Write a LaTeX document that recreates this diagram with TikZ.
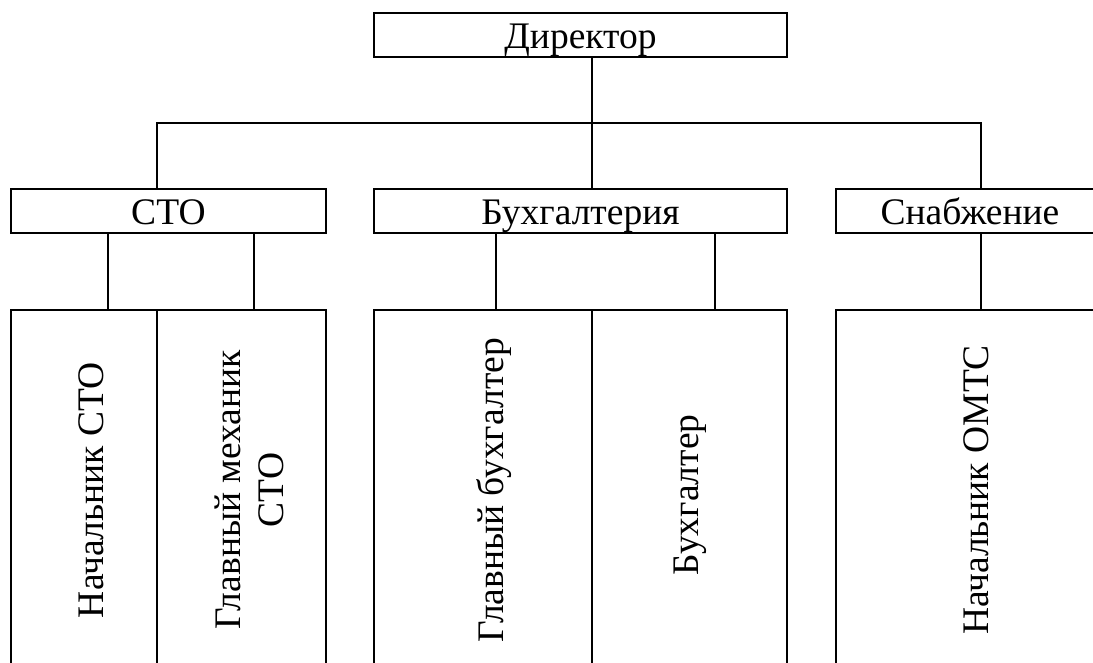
\documentclass[tikz,border=0pt]{standalone}
\usepackage{fontspec}
\setmainfont{Liberation Serif}
\usetikzlibrary{positioning}

\tikzset{
  unit/.style={draw, line width=2pt, inner sep=0pt, align=center,
    text height=27pt, text depth=0pt, minimum height=44pt,
    font=\fontsize{37.5}{43}\selectfont},
  staffbox/.style={draw, line width=2pt, inner sep=0pt, minimum height=360pt},
  role/.style={rotate=90, anchor=base, inner sep=0pt, align=center,
    font=\fontsize{37.5}{43}\selectfont},
  link/.style={line width=2pt},
}

\begin{document}
\begin{tikzpicture}[x=1pt, y=-1pt]
  \useasboundingbox (0,0) rectangle (1093,663);
  \clip (0,0) rectangle (1093,663);
  % head
  \node[unit, minimum width=413pt] (dir) at (580.5,35) {Директор};
  % departments
  \node[unit, minimum width=315pt] (sto) at (168.5,211) {СТО};
  \node[unit, minimum width=413pt] (buh) at (580.5,211) {Бухгалтерия};
  \node[unit, minimum width=268pt] (snab) at (970,211) {Снабжение};
  % staff
  \node[staffbox, minimum width=146pt] (nach) at (84,490) {};
  \node[staffbox, minimum width=169pt] (meh) at (241.5,490) {};
  \node[staffbox, minimum width=218pt] (glbuh) at (483,490) {};
  \node[staffbox, minimum width=195pt] (buhg) at (689.5,490) {};
  \node[staffbox, minimum width=282pt] (omts) at (977,490) {};
  \node[role] (nachL) at (103,490) {Начальник СТО};
  \node[role] (mehL) at (283,490) {Главный механик\\СТО};
  \node[role] (glbuhL) at (503,490.5) {Главный бухгалтер};
  \node[role] (buhgL) at (698,495) {Бухгалтер};
  \node[role] (omtsL) at (988,490) {Начальник ОМТС};
  % bus
  \coordinate (bus) at (592,123);
  \coordinate (busL) at (157,123);
  \coordinate (busR) at (981,123);
  \draw[link] (dir.south -| bus) -- (bus);
  \draw[link] (busL |- sto.north) -- (busL) -- (busR) -- (busR |- snab.north);
  \draw[link] (bus) -- (bus |- buh.north);
  % stems
  \coordinate (s1) at (108,310);
  \coordinate (s2) at (254,310);
  \coordinate (s3) at (496,310);
  \coordinate (s4) at (715,310);
  \coordinate (s5) at (981,310);
  \draw[link] (s1 |- sto.south) -- (s1 |- nach.north);
  \draw[link] (s2 |- sto.south) -- (s2 |- meh.north);
  \draw[link] (s3 |- buh.south) -- (s3 |- glbuh.north);
  \draw[link] (s4 |- buh.south) -- (s4 |- buhg.north);
  \draw[link] (s5 |- snab.south) -- (s5 |- omts.north);
\end{tikzpicture}
\end{document}
